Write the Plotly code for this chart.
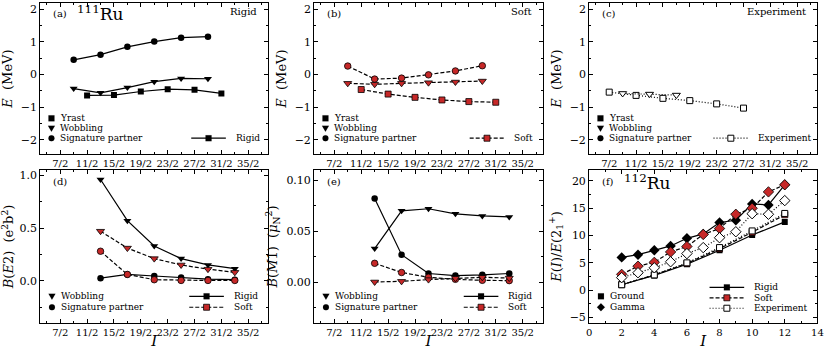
import plotly.graph_objects as go

# ---- data ----
half_labels = ['7/2', '11/2', '15/2', '19/2', '23/2', '27/2', '31/2', '35/2']
half_ticks = [3.5, 5.5, 7.5, 9.5, 11.5, 13.5, 15.5, 17.5]

yrast_I = [5.5, 7.5, 9.5, 11.5, 13.5, 15.5]
partner_I = [4.5, 6.5, 8.5, 10.5, 12.5, 14.5]

a_yrast = [-0.64, -0.63, -0.52, -0.45, -0.47, -0.58]
a_wob = [-0.43, -0.56, -0.40, -0.22, -0.12, -0.13]
a_sp = [0.45, 0.61, 0.85, 1.01, 1.13, 1.16]

b_yrast = [-0.46, -0.60, -0.70, -0.78, -0.83, -0.85]
b_wob = [-0.27, -0.30, -0.27, -0.25, -0.23, -0.20]
b_sp = [0.26, -0.14, -0.11, -0.01, 0.11, 0.27]

c_yrast_I = [3.5, 5.5, 7.5, 9.5, 11.5, 13.5]
c_yrast = [-0.54, -0.64, -0.73, -0.80, -0.90, -1.03]
c_wob_I = [4.5, 6.5, 8.5]
c_wob = [-0.58, -0.60, -0.63]

trans_I = [6.5, 8.5, 10.5, 12.5, 14.5, 16.5]
d_wob_rigid = [0.96, 0.57, 0.33, 0.21, 0.15, 0.115]
d_wob_soft = [0.47, 0.31, 0.21, 0.15, 0.11, 0.08]
d_sp_rigid = [0.025, 0.06, 0.045, 0.03, 0.015, 0.01]
d_sp_soft = [0.28, 0.06, 0.01, 0.003, 0.003, 0.003]

e_wob_rigid = [0.033, 0.070, 0.072, 0.067, 0.065, 0.064]
e_sp_rigid = [0.082, 0.027, 0.0085, 0.0065, 0.0072, 0.0085]
e_sp_soft = [0.0185, 0.0095, 0.0048, 0.0028, 0.0018, 0.0015]
e_wob_soft = [0.0002, 0.0008, 0.0025, 0.0038, 0.0048, 0.0040]

f_ground_I = [2, 4, 6, 8, 10, 12]
f_gamma_I = [2, 3, 4, 5, 6, 7, 8, 9, 10, 11, 12]
f_ground_rigid = [1.0, 2.7, 4.75, 7.3, 10.1, 12.5]
f_ground_soft = [1.0, 2.8, 4.9, 7.6, 10.6, 13.8]
f_ground_exp = [1.0, 2.8, 5.0, 7.8, 10.85, 14.05]
f_gamma_rigid = [6.0, 6.5, 7.3, 8.1, 9.5, 10.3, 12.4, 12.8, 15.8, 15.6, 19.3]
f_gamma_soft = [2.9, 4.4, 5.1, 7.0, 8.0, 10.2, 11.3, 13.9, 15.0, 18.0, 19.3]
f_gamma_exp = [2.3, 3.2, 4.1, 5.2, 6.7, 7.8, 9.6, 10.7, 14.0, 13.9, 16.4]

W, H = 830, 350
RED = '#c62828'
FONT = 'DejaVu Serif'
DASH = '4px,2px'
DOT = '1px,2px'

cols = [(37.5, 268.3), (314.5, 545.8), (592.5, 823.3)]
rows = [(1.8, 154.3), (170.0, 323.8)]


def fx(px):
    return px / W


def fy(py):
    return 1 - py / H


fig = go.Figure()

STYLES = {
    'rigid': dict(dash='solid', fill='black', mline=0),
    'soft': dict(dash=DASH, fill=RED, mline=0.8),
    'exp': dict(dash=DOT, fill='white', mline=1),
}
SIZES = {'square': 6, 'circle': 6.5, 'triangle-down': 7, 'diamond': 8}


def add(k, x, y, style, sym):
    s = STYLES[style]
    fig.add_trace(go.Scatter(
        x=x, y=y, mode='lines+markers', xaxis=f'x{k}', yaxis=f'y{k}',
        line=dict(color='black', width=1.2, dash=s['dash']),
        marker=dict(symbol=sym, size=SIZES[sym], color=s['fill'],
                    line=dict(color='black', width=s['mline'])),
        showlegend=False, hoverinfo='skip'))


# (a) rigid
add(1, partner_I, a_sp, 'rigid', 'circle')
add(1, partner_I, a_wob, 'rigid', 'triangle-down')
add(1, yrast_I, a_yrast, 'rigid', 'square')
# (b) soft
add(2, partner_I, b_sp, 'soft', 'circle')
add(2, partner_I, b_wob, 'soft', 'triangle-down')
add(2, yrast_I, b_yrast, 'soft', 'square')
# (c) experiment
add(3, c_yrast_I, c_yrast, 'exp', 'square')
add(3, c_wob_I, c_wob, 'exp', 'triangle-down')
# (d) B(E2)
add(4, trans_I, d_wob_rigid, 'rigid', 'triangle-down')
add(4, trans_I, d_sp_rigid, 'rigid', 'circle')
add(4, trans_I, d_wob_soft, 'soft', 'triangle-down')
add(4, trans_I, d_sp_soft, 'soft', 'circle')
# (e) B(M1)
add(5, trans_I, e_wob_rigid, 'rigid', 'triangle-down')
add(5, trans_I, e_sp_rigid, 'rigid', 'circle')
add(5, trans_I, e_sp_soft, 'soft', 'circle')
add(5, trans_I, e_wob_soft, 'soft', 'triangle-down')
# (f) 112Ru
add(6, f_ground_I, f_ground_rigid, 'rigid', 'square')
add(6, f_gamma_I, f_gamma_rigid, 'rigid', 'diamond')
add(6, f_ground_I, f_ground_soft, 'soft', 'square')
add(6, f_gamma_I, f_gamma_soft, 'soft', 'diamond')
add(6, f_ground_I, f_ground_exp, 'exp', 'square')
add(6, f_gamma_I, f_gamma_exp, 'exp', 'diamond')

base = dict(showline=True, linecolor='black', linewidth=1, mirror='ticks',
            ticks='inside', ticklen=4, tickwidth=1, tickcolor='black',
            showgrid=False, zeroline=False,
            minor=dict(ticks='inside', ticklen=2, tickwidth=1, tickcolor='black', showgrid=False))

yinfo = {
    1: dict(range=[-2.45, 2.2], dtick=1, minor_d=0.5, fmt='d', title='<i>E</i>  (MeV)'),
    2: dict(range=[-2.45, 2.2], dtick=1, minor_d=0.5, fmt='d', title='<i>E</i>  (MeV)'),
    3: dict(range=[-2.45, 2.2], dtick=1, minor_d=0.5, fmt='d', title='<i>E</i>  (MeV)'),
    4: dict(range=[-0.4, 1.05], dtick=0.5, minor_d=0.25, fmt='.1f',
            title='<i>B</i>(<i>E</i>2)  (e<sup>2</sup>b<sup>2</sup>)'),
    5: dict(range=[-0.04, 0.11], dtick=0.05, minor_d=0.025, fmt='.2f',
            title='<i>B</i>(<i>M</i>1)  (<i>μ</i><sub>N</sub><sup>2</sup>)'),
    6: dict(range=[-6, 22], dtick=5, minor_d=2.5, fmt='d',
            title='<i>E</i>(<i>I</i>)/<i>E</i>(2<sub>1</sub><sup>+</sup>)'),
}

for k in range(1, 7):
    r = 0 if k <= 3 else 1
    c = (k - 1) % 3
    x0, x1 = cols[c]
    y0, y1 = rows[r]
    xa = dict(base, domain=[fx(x0), fx(x1)], anchor=f'y{k}', ticklabeloverflow='allow',
              tickfont=dict(family=FONT, size=10, color='black'))
    if k == 6:
        xa.update(range=[0, 14], dtick=2, tick0=0,
                  minor=dict(base['minor'], dtick=1, tick0=0))
    else:
        xa.update(range=[2, 19], tickmode='array', tickvals=half_ticks, ticktext=half_labels,
                  minor=dict(base['minor'], tickmode='linear', tick0=2.5, dtick=1))
    if r == 1:
        xa['title'] = dict(text='<i>I</i>', font=dict(family=FONT, size=15, color='black'), standoff=2)
    yi = yinfo[k]
    ya = dict(base, domain=[fy(y1), fy(y0)], anchor=f'x{k}', range=yi['range'],
              dtick=yi['dtick'], tick0=0, tickformat=yi['fmt'],
              tickfont=dict(family=FONT, size=11, color='black'),
              minor=dict(base['minor'], dtick=yi['minor_d'], tick0=0),
              title=dict(text=yi['title'], font=dict(family=FONT, size=13, color='black'), standoff=5))
    sfx = '' if k == 1 else str(k)
    fig.layout['xaxis' + sfx] = xa
    fig.layout['yaxis' + sfx] = ya

annotations = []
shapes = []


def text(px, py, s, size=9, anchor='left'):
    annotations.append(dict(x=fx(px), y=fy(py), xref='paper', yref='paper', text=s,
                            showarrow=False, xanchor=anchor, yanchor='middle',
                            font=dict(family=FONT, size=size, color='black')))


def glyph(px, py, sym, style):
    s = STYLES[style]
    g = dict(xref='paper', yref='paper', xsizemode='pixel', ysizemode='pixel',
             xanchor=fx(px), yanchor=fy(py), fillcolor=s['fill'],
             line=dict(color='black', width=s['mline'] if s['mline'] else 0.1))
    if sym == 'square':
        g.update(type='rect', x0=-3, x1=3, y0=-3, y1=3)
    elif sym == 'circle':
        g.update(type='circle', x0=-3, x1=3, y0=-3, y1=3)
    elif sym == 'triangle-down':
        g.update(type='path', path='M-3.5,2.5 L3.5,2.5 L0,-3.5 Z')
    elif sym == 'diamond':
        g.update(type='path', path='M0,-4 L4,0 L0,4 L-4,0 Z')
    shapes.append(g)


def line_key(px0, px1, py, style, sym, label):
    s = STYLES[style]
    shapes.append(dict(type='line', xref='paper', yref='paper', x0=fx(px0), x1=fx(px1),
                       y0=fy(py), y1=fy(py), line=dict(color='black', width=1.2, dash=s['dash'])))
    glyph((px0 + px1) / 2, py, sym, style)
    text(px1 + 8, py, label)


def sym_key(px, py, sym, label):
    glyph(px, py, sym, 'rigid')
    text(px + 7, py, label)


# top row keys
for c, (style, lab) in enumerate([('rigid', 'Rigid'), ('soft', 'Soft'), ('exp', 'Experiment')]):
    L, R = cols[c]
    sym_key(L + 11.5, 118, 'square', 'Yrast')
    sym_key(L + 11.5, 128, 'triangle-down', 'Wobbling')
    sym_key(L + 11.5, 138, 'circle', 'Signature partner')
    tw = {'Rigid': 24, 'Soft': 20, 'Experiment': 51}[lab]
    end = R - 11 - tw - 8
    line_key(end - 35, end, 138, style, 'square', lab)
    text(R - 9, 11, lab, size=10, anchor='right')
    text(L + 11, 13, '(' + 'abc'[c] + ')', size=10)

text(cols[0][0] + 35, 12, '<sup>111</sup>Ru', size=17)

# bottom row keys
for c in (0, 1):
    L, R = cols[c]
    sym_key(L + 12, 297, 'triangle-down', 'Wobbling')
    sym_key(L + 12, 308, 'circle', 'Signature partner')
    line_key(R - 80, R - 45, 297, 'rigid', 'square', 'Rigid')
    line_key(R - 80, R - 45, 308, 'soft', 'square', 'Soft')
    text(L + 11, 182, '(' + 'de'[c] + ')', size=10)

L, R = cols[2]
sym_key(L + 12, 297, 'square', 'Ground')
sym_key(L + 12, 308, 'diamond', 'Gamma')
line_key(R - 109, R - 74, 288, 'rigid', 'square', 'Rigid')
line_key(R - 109, R - 74, 298.5, 'soft', 'square', 'Soft')
line_key(R - 109, R - 74, 309, 'exp', 'square', 'Experiment')
text(L + 11, 182, '(f)', size=10)
text(L + 33, 182, '<sup>112</sup>Ru', size=17)

fig.update_layout(width=W, height=H, margin=dict(l=0, r=0, t=0, b=0),
                  paper_bgcolor='white', plot_bgcolor='white', showlegend=False,
                  font=dict(family=FONT, color='black'),
                  annotations=annotations, shapes=shapes)

# drop the browser's default 8px body margin so the figure fills the window
fig.write_html('out.html', config={'displayModeBar': False},
               post_script="document.body.style.margin='0px';")
